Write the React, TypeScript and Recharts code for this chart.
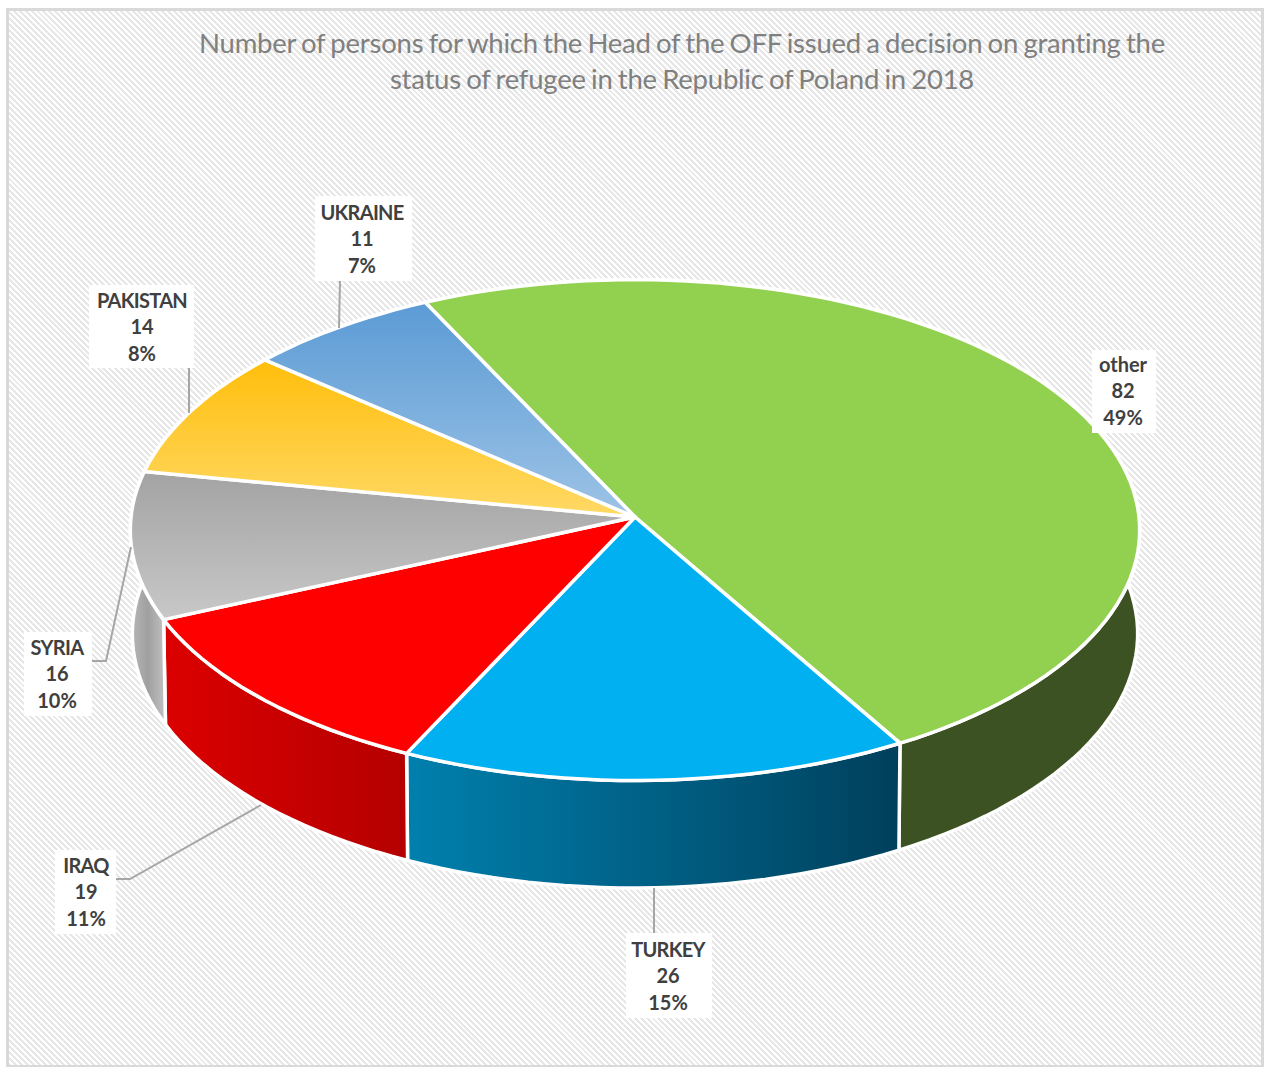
import React from "react";
import { PieChart, Pie } from "recharts";

// ─── Data ─────────────────────────────────────────────────────────────────────
const COUNTRIES = ["other", "TURKEY", "IRAQ", "SYRIA", "PAKISTAN", "UKRAINE"];
const PERSONS = [82, 26, 19, 16, 14, 11];

const TOP_FILLS = [
  "#92d050",
  "#00b0f0",
  "#ff0000",
  "url(#topSyria)",
  "url(#topPakistan)",
  "url(#topUkraine)",
];
const WALL_FILLS = [
  "#3d5222",
  "url(#wallTurkey)",
  "url(#wallIraq)",
  "url(#wallSyria)",
  "#a67c00",
  "#2e6da4",
];

const TITLE_LINES = [
  "Number of persons for which the Head of the OFF issued a decision on granting the",
  "status of refugee in the Republic of Poland in 2018",
];

const topData = COUNTRIES.map((name, i) => ({ name, value: PERSONS[i], fill: TOP_FILLS[i] }));
const wallData = COUNTRIES.map((name, i) => ({ name, value: PERSONS[i], fill: WALL_FILLS[i] }));

// ─── Layout of the callouts, one entry per country ────────────────────────────
const CALLOUTS = [
  { box: [1092, 350, 64, 83], text: 1123, y: 372, line: [] },
  { box: [626, 933, 86, 85], text: 668, y: 957, line: [[654, 888], [654, 933]] },
  { box: [55, 850, 61, 84], text: 86, y: 873, line: [[261, 805], [130, 879], [116, 879]] },
  { box: [24, 632, 68, 84], text: 57, y: 655, line: [[131, 547], [106, 661], [92, 661]] },
  { box: [89, 285, 105, 83], text: 142, y: 308, line: [[189, 368], [189, 413]] },
  { box: [315, 196, 97, 85], text: 362, y: 220, line: [[340, 281], [339, 328]] },
];

// ─── Tilted pie geometry ──────────────────────────────────────────────────────
const WIDTH = 1267;
const HEIGHT = 1067;
const CX = 635;
const CY = 517;
const RADIUS = 504;
const SQUASH = 0.4955;
const PERSPECTIVE = 0.0522;
const START_ANGLE = 115.85;
const FONT = "Lato, 'Open Sans', sans-serif";

// rim point of the tilted disc for a recharts angle (degrees, ccw from 3 o'clock)
function rim(cx: number, cy: number, r: number, deg: number) {
  const rad = (deg * Math.PI) / 180;
  const u = Math.cos(rad);
  const v = -Math.sin(rad);
  const w = 1 - PERSPECTIVE * v;
  return { x: cx + (r * u) / w, y: cy + (r * SQUASH * v) / w, v };
}

function arc(cx: number, cy: number, r: number, from: number, to: number) {
  const steps = Math.max(2, Math.ceil(Math.abs(to - from) / 2));
  const pts = [];
  for (let i = 0; i <= steps; i++) pts.push(rim(cx, cy, r, from + ((to - from) * i) / steps));
  return pts;
}

const fmt = (p: { x: number; y: number }) => `${p.x.toFixed(1)},${p.y.toFixed(1)}`;

// eslint-disable-next-line @typescript-eslint/no-explicit-any
function TopSlice(props: any) {
  const { cx, cy, outerRadius, startAngle, endAngle, fill } = props;
  const pts = arc(cx, cy, outerRadius, startAngle, endAngle);
  const d = `M${cx},${cy} L${pts.map(fmt).join(" L")} Z`;
  return <path d={d} fill={fill} stroke="#fff" strokeWidth={3.5} strokeLinejoin="round" />;
}

// side of the disc: the rim pushed down, a little further where it is nearer the viewer
// eslint-disable-next-line @typescript-eslint/no-explicit-any
function WallSlice(props: any) {
  const { cx, cy, outerRadius, startAngle, endAngle, fill } = props;
  const top = arc(cx, cy, outerRadius, startAngle, endAngle);
  const bottom = top
    .map((p) => ({ x: cx + (p.x - cx) * 0.996, y: p.y + 103.5 + 4 * p.v }))
    .reverse();
  const d = `M${top.map(fmt).join(" L")} L${bottom.map(fmt).join(" L")} Z`;
  return <path d={d} fill={fill} stroke="#fff" strokeWidth={3.5} strokeLinejoin="round" />;
}

// eslint-disable-next-line @typescript-eslint/no-explicit-any
function Callout(props: any) {
  const { index, name, value, percent } = props;
  const c = CALLOUTS[index];
  const [bx, by, bw, bh] = c.box;
  const rows = [name, String(value), `${Math.round(percent * 100)}%`];
  return (
    <g>
      {c.line.length > 0 && (
        <polyline
          points={c.line.map((p) => p.join(",")).join(" ")}
          fill="none"
          stroke="#a6a6a6"
          strokeWidth={2}
        />
      )}
      <rect x={bx} y={by} width={bw} height={bh} fill="#fff" />
      {rows.map((row, i) => (
        <text
          key={i}
          x={c.text}
          y={c.y + i * 26.4}
          textAnchor="middle"
          fontFamily={FONT}
          fontSize={20}
          fontWeight={700}
          letterSpacing={i === 0 && row === row.toUpperCase() ? -0.7 : 0}
          fill="#404040"
        >
          {row}
        </text>
      ))}
    </g>
  );
}

function Gradient({ id, x, stops }: { id: string; x?: boolean; stops: string[] }) {
  return (
    <linearGradient id={id} x1="0" y1="0" x2={x ? "1" : "0"} y2={x ? "0" : "1"}>
      {stops.map((s, i) => (
        <stop key={i} offset={i / (stops.length - 1)} stopColor={s} />
      ))}
    </linearGradient>
  );
}

export default function App() {
  return (
    <div style={{ position: "absolute", left: 0, top: 0, width: WIDTH, height: HEIGHT, background: "#fff" }}>
      <div
        style={{
          position: "absolute",
          left: 6,
          top: 8,
          width: 1252,
          height: 1054,
          border: "3px solid #d9d9d9",
          background:
            "repeating-linear-gradient(45deg, #e7e7e7 0px, #e7e7e7 2.1px, #ffffff 2.1px, #ffffff 4.2px)",
        }}
      />
      <PieChart
        width={WIDTH}
        height={HEIGHT}
        margin={{ top: 0, right: 0, bottom: 0, left: 0 }}
        style={{ position: "absolute", left: 0, top: 0 }}
      >
        <defs>
          <Gradient id="topSyria" stops={["#a3a3a3", "#c8c8c8"]} />
          <Gradient id="topPakistan" stops={["#ffbe0b", "#ffd966"]} />
          <Gradient id="topUkraine" stops={["#5b9bd5", "#9dc3e6"]} />
          <Gradient id="wallTurkey" x stops={["#0080ae", "#00405c"]} />
          <Gradient id="wallIraq" x stops={["#dc0000", "#b40000"]} />
          <Gradient id="wallSyria" x stops={["#b8b8b8", "#a0a0a0", "#c2c2c2"]} />
        </defs>
        <Pie
          data={wallData}
          dataKey="value"
          nameKey="name"
          cx={CX}
          cy={CY}
          outerRadius={RADIUS}
          startAngle={START_ANGLE}
          endAngle={START_ANGLE - 360}
          shape={WallSlice}
          labelLine={false}
          label={false}
          isAnimationActive={false}
        />
        <Pie
          data={topData}
          dataKey="value"
          nameKey="name"
          cx={CX}
          cy={CY}
          outerRadius={RADIUS}
          startAngle={START_ANGLE}
          endAngle={START_ANGLE - 360}
          shape={TopSlice}
          labelLine={false}
          label={Callout}
          isAnimationActive={false}
        />
      </PieChart>
      {TITLE_LINES.map((line, i) => (
        <div
          key={i}
          style={{
            position: "absolute",
            left: 0,
            width: 1364,
            top: 25 + i * 36,
            textAlign: "center",
            whiteSpace: "nowrap",
            fontFamily: FONT,
            fontSize: 27.5,
            letterSpacing: -0.23,
            wordSpacing: -1.5,
            lineHeight: "36px",
            color: "#808080",
          }}
        >
          {line}
        </div>
      ))}
    </div>
  );
}
